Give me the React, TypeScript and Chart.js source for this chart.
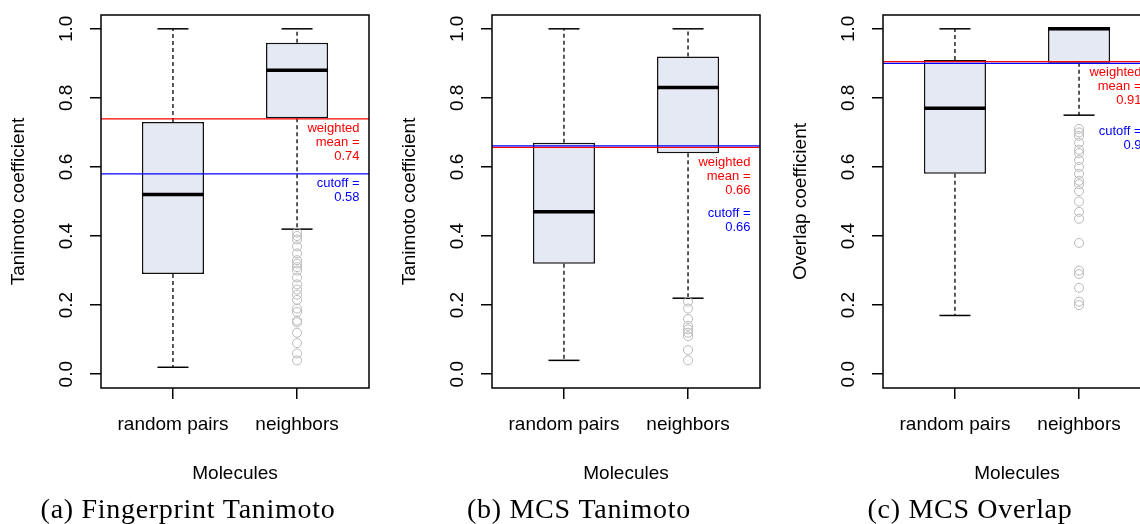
import React, { useEffect, useRef } from 'react';
import { Chart, registerables } from 'chart.js';

Chart.register(...registerables);

// ---------- shared ----------
const categories = ['random pairs', 'neighbors'];
const yTicks = [0, 0.2, 0.4, 0.6, 0.8, 1.0];
const xTitle = 'Molecules';

// ---------- (a) Fingerprint Tanimoto ----------
const fpLow = [0.02, 0.42];
const fpQ1 = [0.29, 0.741];
const fpMedian = [0.52, 0.88];
const fpQ3 = [0.73, 0.96];
const fpHigh = [1.0, 1.0];
const fpOutliers = [0.41, 0.40, 0.39, 0.37, 0.35, 0.33, 0.32, 0.31, 0.30, 0.28, 0.26, 0.245, 0.23, 0.215, 0.19, 0.18, 0.155, 0.15, 0.12, 0.09, 0.06, 0.04];
const fpMean = 0.739;
const fpCutoff = 0.58;

// ---------- (b) MCS Tanimoto ----------
const mtLow = [0.04, 0.22];
const mtQ1 = [0.32, 0.64];
const mtMedian = [0.47, 0.83];
const mtQ3 = [0.67, 0.92];
const mtHigh = [1.0, 1.0];
const mtOutliers = [0.21, 0.19, 0.16, 0.14, 0.13, 0.12, 0.11, 0.07, 0.04];
const mtMean = 0.657;
const mtCutoff = 0.661;

// ---------- (c) MCS Overlap ----------
const moLow = [0.17, 0.75];
const moQ1 = [0.58, 0.902];
const moMedian = [0.77, 1.0];
const moQ3 = [0.91, 1.0];
const moHigh = [1.0, 1.0];
const moOutliers = [0.71, 0.70, 0.69, 0.67, 0.65, 0.64, 0.62, 0.60, 0.58, 0.56, 0.55, 0.53, 0.50, 0.47, 0.45, 0.38, 0.30, 0.29, 0.25, 0.21, 0.20];
const moMean = 0.905;
const moCutoff = 0.90;

type Panel = {
  yTitle: string;
  caption: string;
  low: number[]; q1: number[]; median: number[]; q3: number[]; high: number[];
  outliers: number[];
  mean: number; cutoff: number;
  meanText: string; cutoffText: string;
  meanLabelAt: number; cutoffLabelAt: number;
  left: number;
};

const panels: Panel[] = [
  {
    yTitle: 'Tanimoto coefficient', caption: '(a) Fingerprint Tanimoto',
    low: fpLow, q1: fpQ1, median: fpMedian, q3: fpQ3, high: fpHigh, outliers: fpOutliers,
    mean: fpMean, cutoff: fpCutoff, meanText: '0.74', cutoffText: '0.58',
    meanLabelAt: 0.712, cutoffLabelAt: 0.553, left: 0,
  },
  {
    yTitle: 'Tanimoto coefficient', caption: '(b) MCS Tanimoto',
    low: mtLow, q1: mtQ1, median: mtMedian, q3: mtQ3, high: mtHigh, outliers: mtOutliers,
    mean: mtMean, cutoff: mtCutoff, meanText: '0.66', cutoffText: '0.66',
    meanLabelAt: 0.614, cutoffLabelAt: 0.465, left: 391,
  },
  {
    yTitle: 'Overlap coefficient', caption: '(c) MCS Overlap',
    low: moLow, q1: moQ1, median: moMedian, q3: moQ3, high: moHigh, outliers: moOutliers,
    mean: moMean, cutoff: moCutoff, meanText: '0.91', cutoffText: '0.9',
    meanLabelAt: 0.874, cutoffLabelAt: 0.702, left: 782,
  },
];

const AXIS_FONT = { family: 'Liberation Sans', size: 19 };
const BOX_FILL = '#e5e9f4';
const OUTLIER_COLOR = '#b9b9b9';

function makeExtras(p: Panel) {
  return {
    id: 'boxExtras',
    beforeDatasetsDraw(chart: any) {
      const { ctx, scales } = chart;
      const x = scales.x, y = scales.y;
      ctx.save();
      ctx.strokeStyle = '#000';
      categories.forEach((_, i) => {
        const xc = x.getPixelForValue(i + 1);
        ctx.lineWidth = 1.3;
        ctx.setLineDash([4, 3]);
        ctx.beginPath();
        ctx.moveTo(xc, y.getPixelForValue(p.q3[i]));
        ctx.lineTo(xc, y.getPixelForValue(p.high[i]));
        ctx.moveTo(xc, y.getPixelForValue(p.q1[i]));
        ctx.lineTo(xc, y.getPixelForValue(p.low[i]));
        ctx.stroke();
        ctx.setLineDash([]);
        ctx.lineWidth = 1.5;
        const xl = x.getPixelForValue(i + 1 - 0.125);
        const xr = x.getPixelForValue(i + 1 + 0.125);
        [p.low[i], p.high[i]].forEach((v) => {
          const yy = y.getPixelForValue(v);
          ctx.beginPath();
          ctx.moveTo(xl, yy);
          ctx.lineTo(xr, yy);
          ctx.stroke();
        });
      });
      ctx.restore();
    },
    afterDatasetsDraw(chart: any) {
      const { ctx, scales, chartArea } = chart;
      const x = scales.x, y = scales.y;
      ctx.save();
      // medians
      ctx.strokeStyle = '#000';
      ctx.lineWidth = 3.5;
      ctx.lineCap = 'butt';
      categories.forEach((_, i) => {
        const yy = y.getPixelForValue(p.median[i]);
        ctx.beginPath();
        ctx.moveTo(x.getPixelForValue(i + 1 - 0.25), yy);
        ctx.lineTo(x.getPixelForValue(i + 1 + 0.25), yy);
        ctx.stroke();
      });
      // reference lines
      const hline = (v: number, color: string) => {
        const yy = y.getPixelForValue(v);
        ctx.strokeStyle = color;
        ctx.lineWidth = 1.2;
        ctx.beginPath();
        ctx.moveTo(chartArea.left, yy);
        ctx.lineTo(chartArea.right, yy);
        ctx.stroke();
      };
      hline(p.mean, '#ff0000');
      hline(p.cutoff, '#0000ff');
      // labels
      ctx.font = '13px "Liberation Sans"';
      ctx.textAlign = 'right';
      ctx.textBaseline = 'middle';
      const tx = chartArea.right - 9.5;
      const lines = (arr: string[], at: number, color: string) => {
        const y0 = y.getPixelForValue(at);
        ctx.fillStyle = color;
        arr.forEach((t, k) => ctx.fillText(t, tx, y0 + k * 14));
      };
      lines(['weighted', 'mean =', p.meanText], p.meanLabelAt, '#ff0000');
      lines(['cutoff =', p.cutoffText], p.cutoffLabelAt, '#0000ff');
      // plot frame
      ctx.strokeStyle = '#000';
      ctx.lineWidth = 1.5;
      ctx.strokeRect(chartArea.left, chartArea.top, chartArea.right - chartArea.left, chartArea.bottom - chartArea.top);
      ctx.restore();
    },
    afterDraw(chart: any) {
      const { ctx } = chart;
      ctx.save();
      ctx.font = '28px "Liberation Serif"';
      try { (ctx as any).letterSpacing = '0.7px'; } catch (e) { /* ignore */ }
      ctx.fillStyle = '#000';
      ctx.textAlign = 'center';
      ctx.textBaseline = 'alphabetic';
      ctx.fillText(p.caption, chart.width / 2, 518);
      ctx.restore();
    },
  };
}

function BoxPanel({ p }: { p: Panel }) {
  const ref = useRef<HTMLCanvasElement | null>(null);
  useEffect(() => {
    if (!ref.current) return;
    const gridOpts = {
      display: true,
      drawOnChartArea: false,
      drawTicks: true,
      tickLength: 11,
      color: '#000',
      lineWidth: 1.5,
      offset: false,
    };
    const chart = new Chart(ref.current, {
      type: 'bar',
      data: {
        datasets: [
          {
            type: 'scatter',
            data: p.outliers.map((v) => ({ x: 2, y: v })),
            pointRadius: 4.5,
            pointBorderColor: OUTLIER_COLOR,
            pointBackgroundColor: 'rgba(0,0,0,0)',
            pointBorderWidth: 1,
            showLine: false,
            order: 0,
          } as any,
          {
            type: 'bar',
            data: categories.map((_, i) => ({ x: i + 1, y: [p.q1[i], p.q3[i]] })),
            backgroundColor: BOX_FILL,
            borderColor: '#111',
            borderWidth: 1.5,
            borderSkipped: false,
            barPercentage: 0.5,
            categoryPercentage: 1.0,
            order: 1,
          } as any,
        ],
      },
      options: {
        animation: false,
        responsive: false,
        maintainAspectRatio: false,
        events: [],
        layout: { padding: { left: 0, right: 7, top: 15, bottom: 36 } },
        plugins: { legend: { display: false }, tooltip: { enabled: false } },
        scales: {
          x: {
            type: 'linear',
            min: 0.42,
            max: 2.58,
            offset: false,
            grid: gridOpts,
            border: { display: false },
            ticks: {
              font: AXIS_FONT,
              color: '#000',
              padding: 14,
              autoSkip: false,
              maxRotation: 0,
              callback: (v: any) => categories[Math.round(v) - 1] ?? '',
            },
            afterBuildTicks: (s: any) => {
              s.ticks = categories.map((_, i) => ({ value: i + 1 }));
            },
            afterFit: (s: any) => {
              s.height = 100;
              s.paddingLeft = 0;
              s.paddingRight = 0;
              s.paddingTop = 0;
              s.paddingBottom = 0;
            },
            title: {
              display: true,
              text: xTitle,
              font: AXIS_FONT,
              color: '#000',
              padding: { top: 0, bottom: 3 },
            },
          },
          y: {
            type: 'linear',
            min: -0.04,
            max: 1.04,
            grid: gridOpts,
            border: { display: false },
            ticks: {
              font: AXIS_FONT,
              color: '#000',
              padding: 10.5,
              crossAlign: 'center',
              minRotation: 90,
              maxRotation: 90,
              autoSkip: false,
              callback: (v: any) => Number(v).toFixed(1),
            },
            afterBuildTicks: (s: any) => {
              s.ticks = yTicks.map((v) => ({ value: v }));
            },
            afterFit: (s: any) => {
              s.width = 101;
              s.paddingLeft = 0;
              s.paddingRight = 0;
              s.paddingTop = 0;
              s.paddingBottom = 0;
            },
            title: {
              display: true,
              text: p.yTitle,
              font: AXIS_FONT,
              color: '#000',
              padding: { top: 7, bottom: 0 },
            },
          },
        },
      } as any,
      plugins: [makeExtras(p)],
    });
    return () => chart.destroy();
  }, [p]);
  return (
    <canvas
      ref={ref}
      width={376}
      height={524}
      style={{ position: 'absolute', left: p.left, top: 0, width: 376, height: 524, display: 'block' }}
    />
  );
}

export default function App() {
  return (
    <div
      style={{
        position: 'fixed',
        left: 0,
        top: 0,
        width: 1140,
        height: 524,
        overflow: 'hidden',
        background: '#fff',
      }}
    >
      {panels.map((p, i) => (
        <BoxPanel key={i} p={p} />
      ))}
    </div>
  );
}
